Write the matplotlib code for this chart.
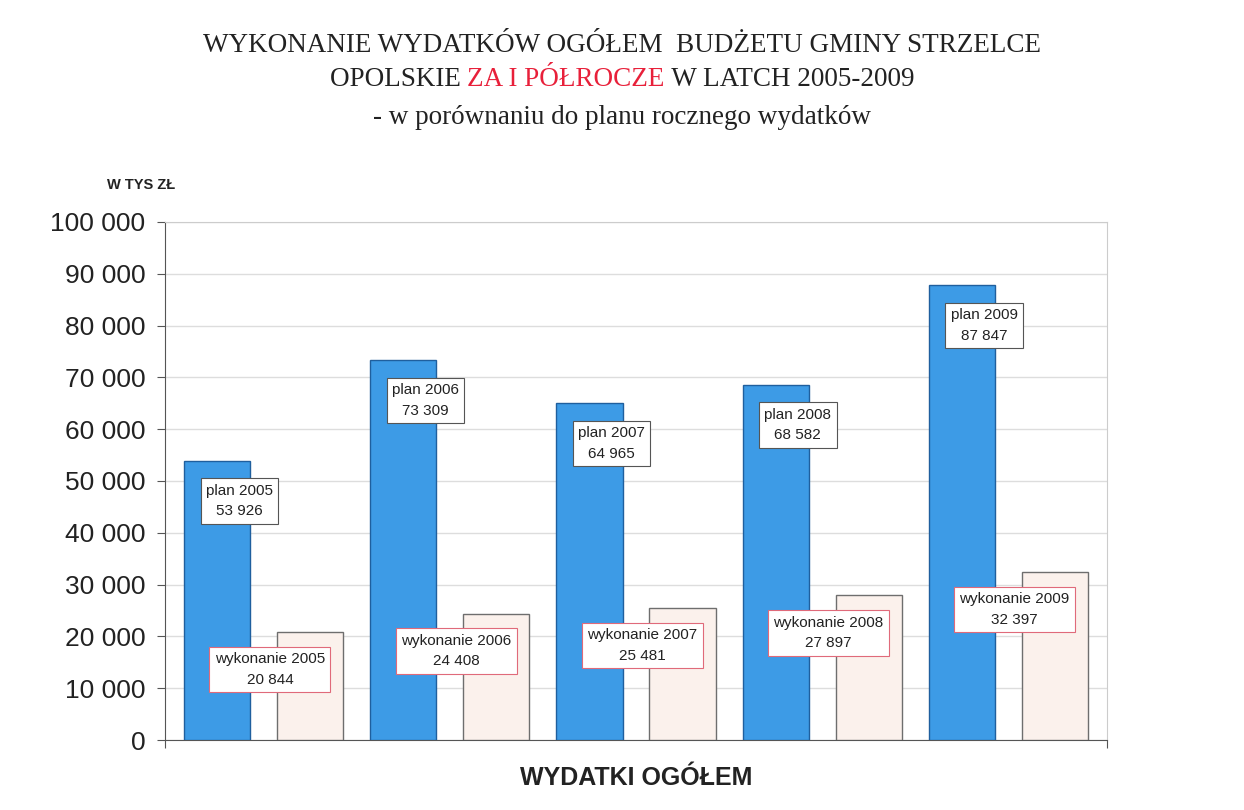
import matplotlib.pyplot as plt
from matplotlib.ticker import FuncFormatter

years = [2005, 2006, 2007, 2008, 2009]
plan = [53926, 73309, 64965, 68582, 87847]
wykonanie = [20844, 24408, 25481, 27897, 32397]
y_ticks = [0, 10000, 20000, 30000, 40000, 50000, 60000, 70000, 80000, 90000, 100000]


def fmt(v):
    return f"{int(v):,}".replace(",", " ")


plt.rcParams['font.family'] = ['Liberation Sans', 'DejaVu Sans']

fig = plt.figure(figsize=(12.44, 8.10), dpi=100)
ax = fig.add_axes([165 / 1244, 1 - 740 / 810, (1107 - 165) / 1244, (740 - 222) / 810])

x_plan = [2 * i for i in range(len(years))]
x_wyk = [2 * i + 1 for i in range(len(years))]
w = 0.71
ax.bar(x_plan, plan, width=w, color='#3d9be6', edgecolor='#1f5f9e', linewidth=1, zorder=3)
ax.bar(x_wyk, wykonanie, width=w, color='#fbf1ec', edgecolor='#6e6e6e', linewidth=1, zorder=3)

# etykiety danych
for x, v, y in zip(x_plan, plan, years):
    ax.annotate(f"plan {y}\n{fmt(v)}", xy=(x, v), xytext=(16, -29), textcoords='offset points',
                ha='center', va='center', fontsize=11, linespacing=1.6, zorder=5, color='#222222',
                bbox=dict(boxstyle='square,pad=0.35', fc='white', ec='#555555', lw=0.8))
for x, v, y in zip(x_wyk, wykonanie, years):
    ax.annotate(f"wykonanie {y}\n{fmt(v)}", xy=(x, v), xytext=(-29, -27), textcoords='offset points',
                ha='center', va='center', fontsize=11, linespacing=1.6, zorder=5, color='#222222',
                bbox=dict(boxstyle='square,pad=0.35', fc='white', ec='#e06a7a', lw=0.8))

ax.set_xlim(-0.56, 9.56)
ax.set_ylim(0, 100000)
ax.set_yticks(y_ticks)
ax.yaxis.set_major_formatter(FuncFormatter(lambda v, p: fmt(v)))
ax.tick_params(axis='y', labelsize=19, length=6, direction='out', color='#555555', pad=8,
               labelcolor='#222222')
ax.set_xticks([-0.56, 9.56])
ax.set_xticklabels([])
ax.tick_params(axis='x', length=6, direction='out', color='#555555')
ax.grid(axis='y', color='#dddddd', linewidth=1, zorder=0)
for s in ['top', 'right']:
    ax.spines[s].set_color('#cccccc')
for s in ['left', 'bottom']:
    ax.spines[s].set_color('#555555')

ax.set_xlabel("WYDATKI OGÓŁEM", fontsize=18, fontweight='bold', labelpad=9, color='#222222')
fig.text(107 / 1244, 1 - 185 / 810, "W TYS ZŁ", fontsize=10.5, fontweight='bold', ha='left', va='center', color='#222222')

# tytuł
serif = ['Liberation Serif', 'DejaVu Serif']
fig.text(0.5, 1 - 45 / 810, "WYKONANIE WYDATKÓW OGÓŁEM  BUDŻETU GMINY STRZELCE",
         family=serif, fontsize=19.5, ha='center', va='center', color='#222222')
fig.text(0.5, 1 - 117 / 810, "- w porównaniu do planu rocznego wydatków",
         family=serif, fontsize=19.5, ha='center', va='center', color='#222222')

parts = [("OPOLSKIE ", '#222222'), ("ZA I PÓŁROCZE", '#e8203a'), (" W LATCH 2005-2009", '#222222')]
fig.canvas.draw()
r = fig.canvas.get_renderer()
texts = []
for s, c in parts:
    t = fig.text(0, 1 - 80 / 810, s, family=serif, fontsize=19.5, ha='left', va='center', color=c)
    texts.append(t)
widths = [t.get_window_extent(r).width / fig.bbox.width for t in texts]
x0 = 0.5 - sum(widths) / 2
for t, wd in zip(texts, widths):
    t.set_x(x0)
    x0 += wd

fig.savefig("out.png", dpi=100)
